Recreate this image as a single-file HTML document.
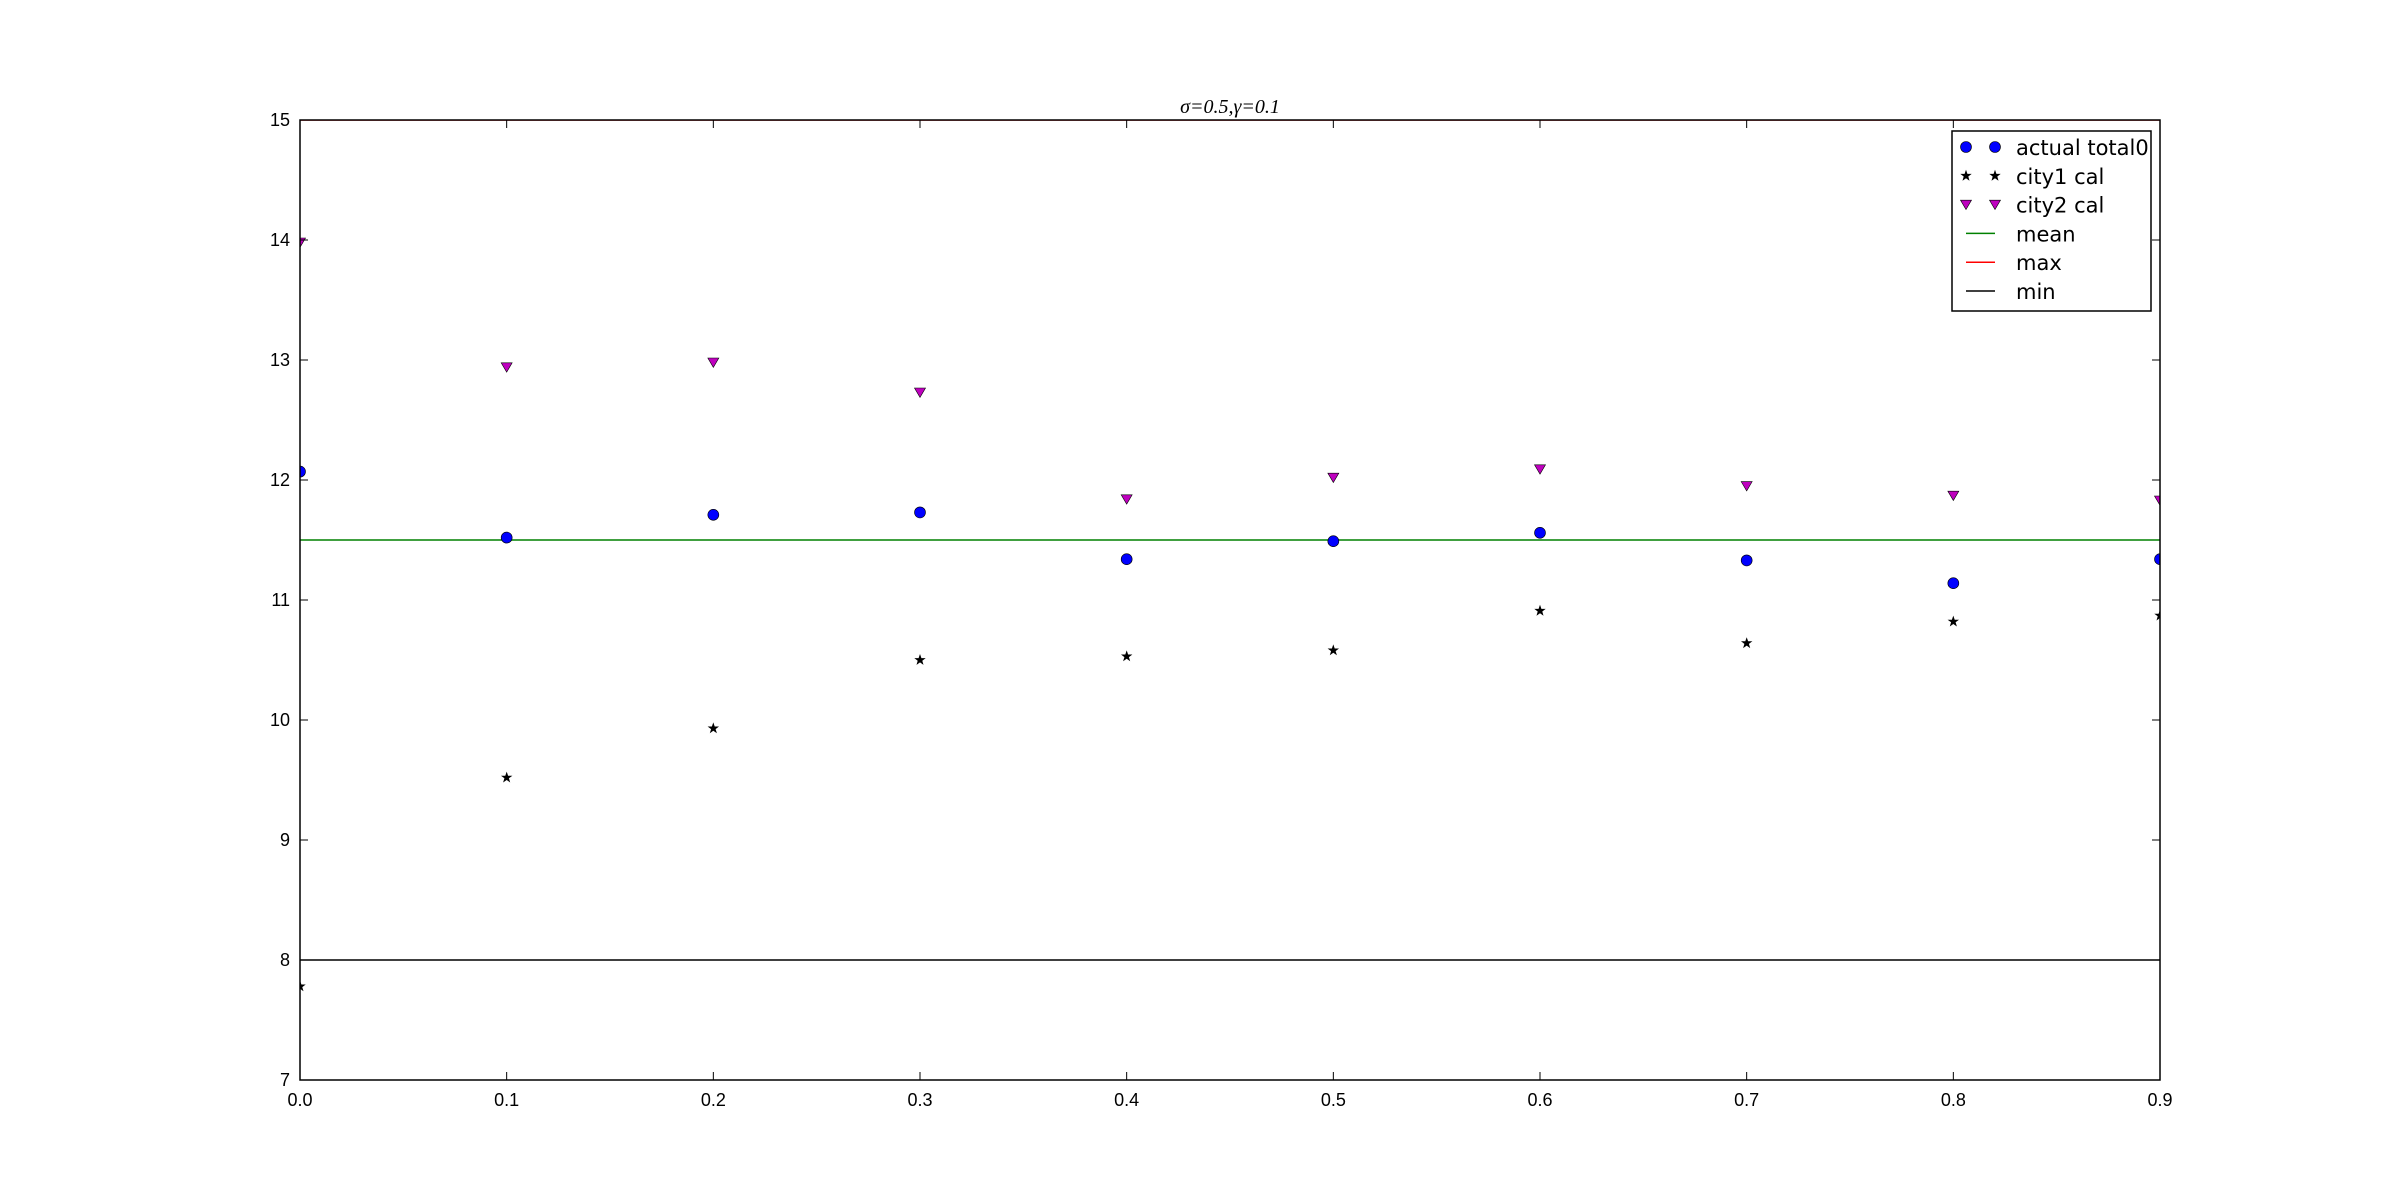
<!DOCTYPE html>
<html><head><meta charset="utf-8"><style>html,body{margin:0;padding:0;background:#fff}svg{display:block}</style></head>
<body>
<svg id="chart" width="2400" height="1200" xmlns="http://www.w3.org/2000/svg" font-family="Liberation Sans, DejaVu Sans, sans-serif">
<rect width="2400" height="1200" fill="#fff"/>
<text x="1230" y="113" text-anchor="middle" font-family="Liberation Serif, serif" font-style="italic" font-size="20">σ=0.5,γ=0.1</text>
<g id="plot"></g>
</svg>
<script>
const xCats=[0,0.1,0.2,0.3,0.4,0.5,0.6,0.7,0.8,0.9];
const actualVals=[12.07,11.52,11.71,11.73,11.34,11.49,11.56,11.33,11.14,11.34];
const city1Vals=[7.78,9.52,9.93,10.50,10.53,10.58,10.91,10.64,10.82,10.87];
const city2Vals=[13.98,12.94,12.98,12.73,11.84,12.02,12.09,11.95,11.87,11.83];
const meanVal=11.5, maxVal=15, minVal=8;
const xTicks=[0,0.1,0.2,0.3,0.4,0.5,0.6,0.7,0.8,0.9];
const xTickLabels=["0.0","0.1","0.2","0.3","0.4","0.5","0.6","0.7","0.8","0.9"];
const yTicks=[7,8,9,10,11,12,13,14,15];
const L=300,R=2160,T=120,B=1080;
const xs=v=>L+(v-0)/(0.9)*(R-L);
const ys=v=>B-(v-7)/8*(B-T);
const NS="http://www.w3.org/2000/svg";
const g=document.getElementById('plot');
function mk(tag,attrs,parent){const e=document.createElementNS(NS,tag);for(const k in attrs)e.setAttribute(k,attrs[k]);(parent||g).appendChild(e);return e;}
const defs=mk('defs',{});const cp=mk('clipPath',{id:'clip'},defs);mk('rect',{x:L,y:T,width:R-L,height:B-T},cp);
const pg=mk('g',{'clip-path':'url(#clip)'});
let e;
e=mk('line',{x1:L,x2:R,y1:ys(meanVal),y2:ys(meanVal),stroke:'#008000','stroke-width':1.5},pg);


e=mk('line',{x1:L,x2:R,y1:ys(maxVal),y2:ys(maxVal),stroke:'#ff0000','stroke-width':1.5},pg);


e=mk('line',{x1:L,x2:R,y1:ys(minVal),y2:ys(minVal),stroke:'#000','stroke-width':1.5},pg);


function star(cx,cy,r){let p=[];for(let i=0;i<10;i++){const a=-Math.PI/2+i*Math.PI/5;const rr=i%2?r*0.4:r;p.push((cx+rr*Math.cos(a)).toFixed(1)+','+(cy+rr*Math.sin(a)).toFixed(1));}return p.join(' ');}
function tri(cx,cy,r){return `${cx-r},${cy-r*0.8} ${cx+r},${cy-r*0.8} ${cx},${cy+r*0.9}`;}
xCats.forEach((x,i)=>{
 e=mk('circle',{cx:xs(x),cy:ys(actualVals[i]),r:5.5,fill:'#0000ff',stroke:'#000','stroke-width':0.6},pg);
 
 
 e=mk('polygon',{points:star(xs(x),ys(city1Vals[i]),6),fill:'#000'},pg);
 
 
 e=mk('polygon',{points:tri(xs(x),ys(city2Vals[i]),5.5),fill:'#bf00bf',stroke:'#000','stroke-width':0.6},pg);
 
 
});
e=mk('rect',{x:L,y:T,width:R-L,height:B-T,fill:'none',stroke:'#000','stroke-width':1.5});


xTicks.forEach((v,i)=>{const x=xs(v);
 mk('line',{x1:x,x2:x,y1:B,y2:B-8,stroke:'#000','stroke-width':1});
 mk('line',{x1:x,x2:x,y1:T,y2:T+8,stroke:'#000','stroke-width':1});
 e=mk('text',{x:x,y:B+26,'text-anchor':'middle','font-size':18});e.textContent=xTickLabels[i];
 
 
});
yTicks.forEach(v=>{const y=ys(v);
 mk('line',{x1:L,x2:L+8,y1:y,y2:y,stroke:'#000','stroke-width':1});
 mk('line',{x1:R,x2:R-8,y1:y,y2:y,stroke:'#000','stroke-width':1});
 e=mk('text',{x:L-10,y:y+6,'text-anchor':'end','font-size':18});e.textContent=String(v);
 
 
});
const lg=mk('g',{});


mk('rect',{x:1952,y:131,width:199,height:180,fill:'#fff',stroke:'#000','stroke-width':1.5},lg);
const items=[['actual total0','c'],['city1 cal','s'],['city2 cal','t'],['mean','#008000'],['max','#ff0000'],['min','#000']];
items.forEach((it,i)=>{const y=147+i*28.8;
 if(it[1]==='c'){[1966,1995].forEach(x=>mk('circle',{cx:x,cy:y,r:5.5,fill:'#0000ff',stroke:'#000','stroke-width':0.6},lg));}
 else if(it[1]==='s'){[1966,1995].forEach(x=>mk('polygon',{points:star(x,y,6),fill:'#000'},lg));}
 else if(it[1]==='t'){[1966,1995].forEach(x=>mk('polygon',{points:tri(x,y,5.5),fill:'#bf00bf',stroke:'#000','stroke-width':0.6},lg));}
 else mk('line',{x1:1966,x2:1995,y1:y,y2:y,stroke:it[1],'stroke-width':1.5},lg);
 e=mk('text',{x:2016,y:y+8,'font-size':21,'font-family':'DejaVu Sans, sans-serif'},lg);e.textContent=it[0];
 
 
});
</script>
</body></html>
